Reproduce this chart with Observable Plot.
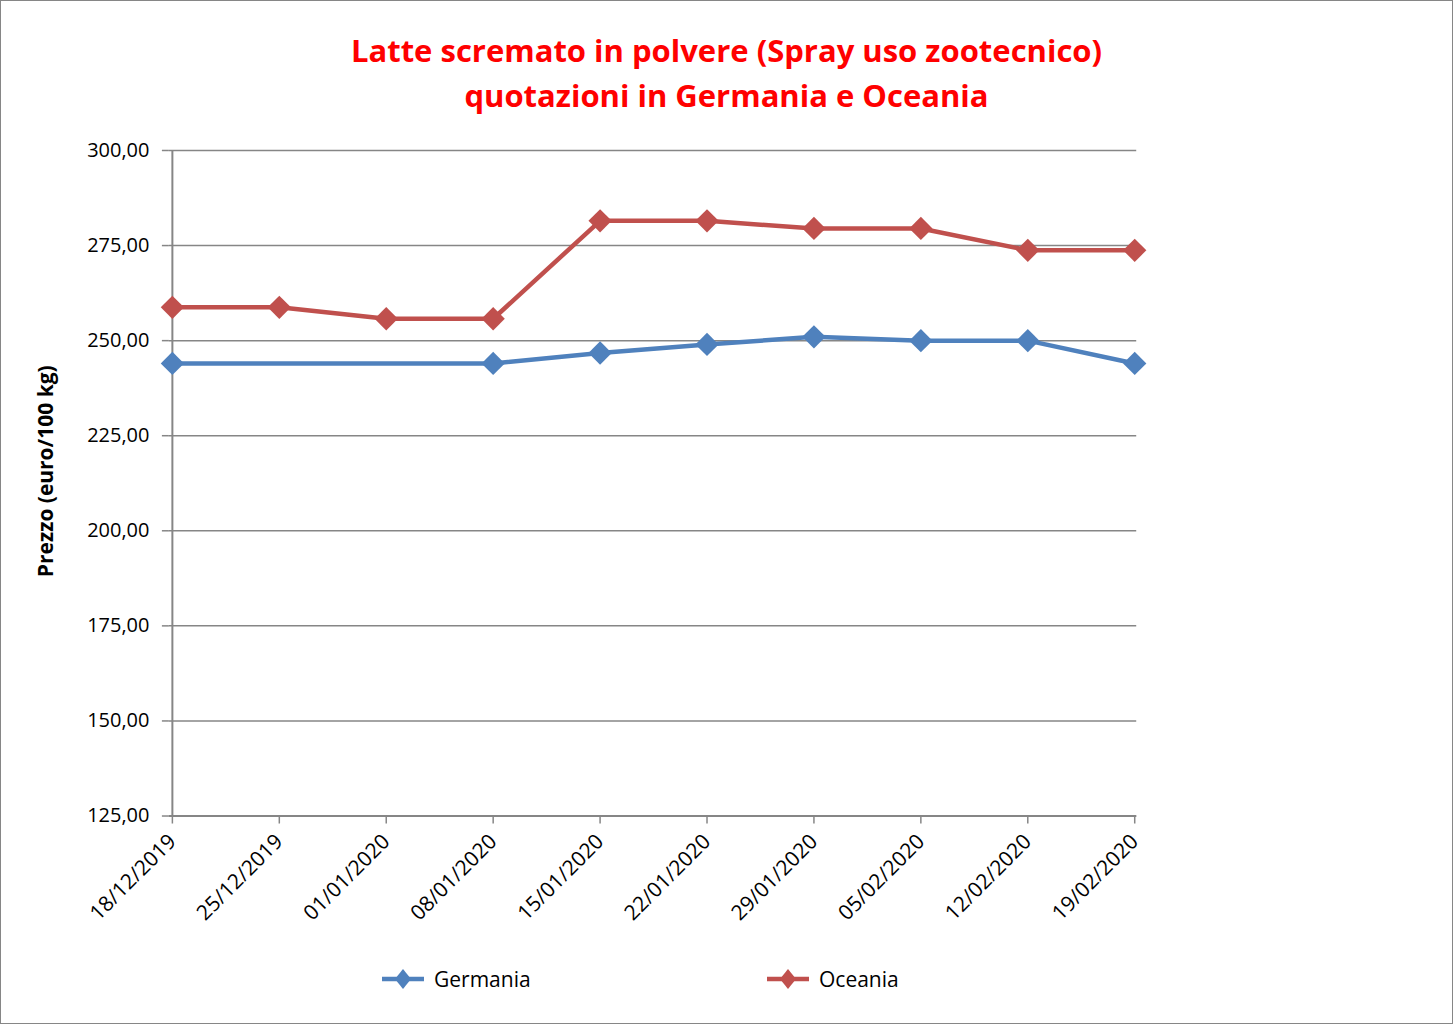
<!DOCTYPE html>
<html>
<head>
<meta charset="utf-8">
<script src="https://cdn.jsdelivr.net/npm/d3@7"></script>
<script src="https://cdn.jsdelivr.net/npm/@observablehq/plot@0.6"></script>
<style>
  html, body { margin: 0; padding: 0; background: #fff; }
  #frame { position: relative; width: 1453px; height: 1024px; box-sizing: border-box; border: 1px solid #868686; background: #fff; font-family: "Open Sans", sans-serif; overflow: hidden; }
  #title { position: absolute; top: 27px; left: 0; width: 100%; text-align: center; color: #ff0000; font-weight: bold; font-size: 31px; line-height: 45px; }
  #chart { position: absolute; top: 124px; left: -1px; }
  #legend { position: absolute; top: 963px; left: 0; width: 100%; height: 30px; }
  .item { position: absolute; display: flex; align-items: center; font-size: 21px; color: #000; }
  .item svg { margin-right: 10px; }
</style>
</head>
<body>
<div id="frame">
  <div id="title">Latte scremato in polvere (Spray uso zootecnico)<br>quotazioni in Germania e Oceania</div>
  <div id="chart"></div>
  <div id="legend"></div>
</div>
<script>
const dates = ["18/12/2019", "25/12/2019", "01/01/2020", "08/01/2020", "15/01/2020", "22/01/2020", "29/01/2020", "05/02/2020", "12/02/2020", "19/02/2020"];
const germania = [244, null, null, 244, 246.75, 249, 251, 250, 250, 244];
const oceania = [258.75, 258.75, 255.75, 255.75, 281.5, 281.5, 279.5, 279.5, 273.75, 273.75];
const seriesNames = ["Germania", "Oceania"];
const seriesColors = ["#4F81BD", "#C0504D"];
const yTicks = [125, 150, 175, 200, 225, 250, 275, 300];
const yLabel = "Prezzo (euro/100 kg)";

const rows = [];
dates.forEach((d, i) => {
  rows.push({date: d, series: "Germania", value: germania[i]});
  rows.push({date: d, series: "Oceania", value: oceania[i]});
});
const defined = rows.filter(r => r.value != null);

const gray = "#868686";
const chart = Plot.plot({
  width: 1453,
  height: 815,
  marginLeft: 169,
  marginRight: 316,
  marginTop: 25,
  marginBottom: 124,
  style: {fontFamily: "'Open Sans', sans-serif", fontSize: "20px", color: "#000", background: "transparent"},
  x: {type: "point", domain: dates, padding: 0},
  y: {domain: [125, 300]},
  color: {domain: seriesNames, range: seriesColors},
  marks: [
    Plot.gridY(yTicks, {stroke: gray, strokeOpacity: 1, strokeWidth: 1.5}),
    Plot.axisY({ticks: yTicks, tickFormat: d => d.toFixed(2).replace(".", ","), tickSize: 7, tickPadding: 13,
      stroke: gray, strokeWidth: 1.5, strokeOpacity: 1, fontSize: 20, label: null}),
    Plot.text([yLabel], {frameAnchor: "left", textAnchor: "middle", rotate: -90, dx: -123, dy: -12, fontWeight: "bold", fontSize: 21, fill: "#000"}),
    Plot.ruleX([dates[0]], {stroke: gray, strokeWidth: 2}),
    Plot.ruleY([125], {stroke: gray, strokeWidth: 2}),
    Plot.axisX({tickRotate: -45, tickSize: 8, tickPadding: 14, stroke: gray, strokeWidth: 1.5, strokeOpacity: 1, fontSize: 21, label: null}),
    Plot.line(defined, {x: "date", y: "value", z: "series", stroke: "series", strokeWidth: 4.5}),
    Plot.dot(defined, {x: "date", y: "value", symbol: "diamond2", r: 10.5, fill: "series", stroke: "none"})
  ]
});
document.getElementById("chart").appendChild(chart);

const legend = document.getElementById("legend");
const lefts = [381, 766];
seriesNames.forEach((name, i) => {
  const c = seriesColors[i];
  const item = document.createElement("div");
  item.className = "item";
  item.style.left = lefts[i] + "px";
  item.innerHTML = `<svg width="42" height="30"><line x1="0" x2="42" y1="15" y2="15" stroke="${c}" stroke-width="4.5"/><polygon points="21,5 29,15 21,25 13,15" fill="${c}"/></svg><span>${name}</span>`;
  legend.appendChild(item);
});
</script>
</body>
</html>
